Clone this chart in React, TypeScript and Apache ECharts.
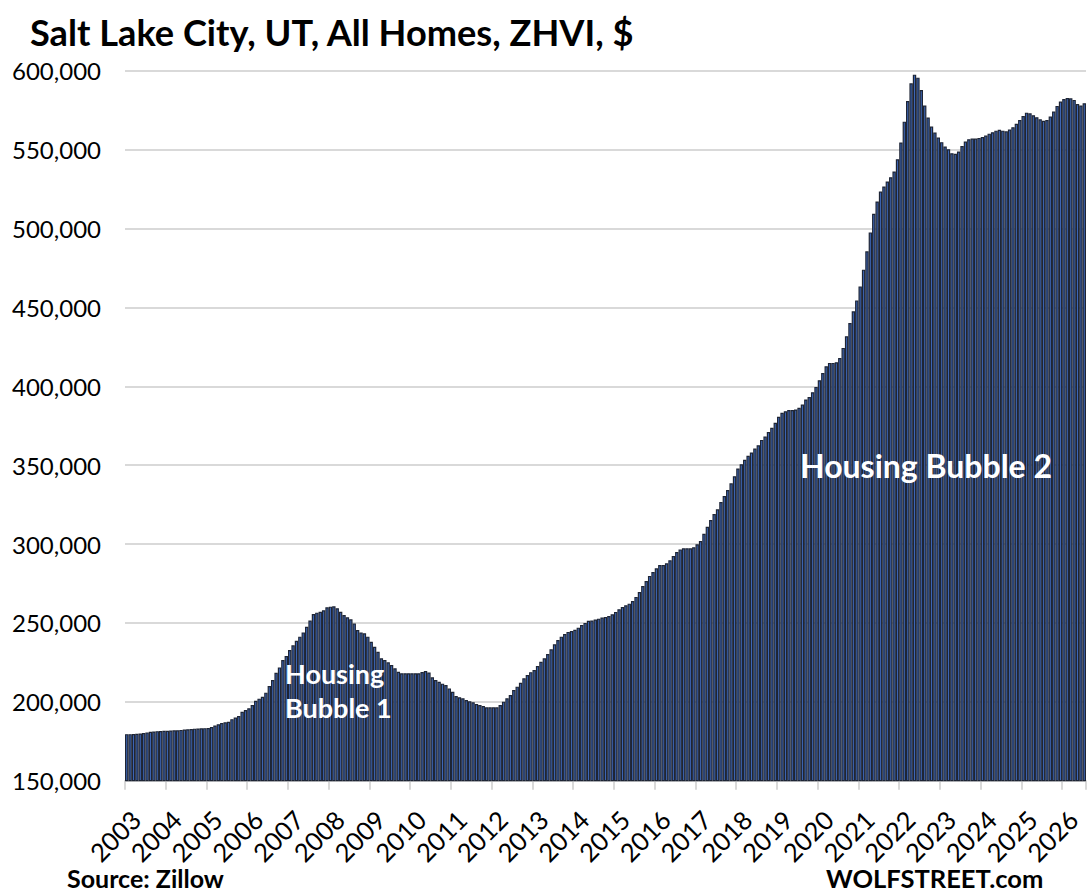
import React, { useEffect, useRef } from "react";
import * as echarts from "echarts";

// Salt Lake City ZHVI, monthly, in thousands of dollars (Jan 2003 onward)
const firstYear = 2003;
const zhviThousands: number[] = [
  // 2003
  179.5, 179.5, 179.6, 179.7, 179.9, 180.2, 180.6, 181.0, 181.2, 181.4, 181.5, 181.6,
  // 2004
  181.7, 181.8, 181.9, 182.0, 182.2, 182.4, 182.6, 182.8, 183.0, 183.1, 183.2, 183.3,
  // 2005
  183.4, 184.0, 185.0, 185.8, 186.5, 187.0, 187.4, 189.0, 190.0, 191.0, 193.7, 194.8,
  // 2006
  195.9, 198.0, 200.7, 202.0, 203.2, 205.8, 210.0, 213.8, 218.4, 221.8, 226.5, 229.0,
  // 2007
  232.8, 235.8, 238.7, 241.3, 244.0, 247.5, 251.5, 255.6, 256.5, 257.1, 258.0, 259.9,
  // 2008
  260.3, 260.5, 259.3, 257.1, 255.0, 253.6, 252.3, 249.7, 245.5, 244.0, 243.4, 241.3,
  // 2009
  238.1, 234.9, 231.7, 227.6, 226.5, 225.0, 223.3, 221.2, 219.1, 218.1, 218.1, 218.1,
  // 2010
  218.1, 218.1, 218.1, 218.9, 219.5, 218.5, 215.5, 213.8, 212.7, 211.5, 210.6, 208.5,
  // 2011
  206.4, 203.7, 202.9, 202.2, 201.1, 200.3, 199.7, 198.6, 198.0, 197.3, 196.5, 196.5,
  // 2012
  196.5, 196.5, 198.0, 200.1, 202.2, 204.3, 207.5, 209.6, 212.1, 214.9, 217.0, 218.8,
  // 2013
  220.2, 222.7, 225.4, 227.6, 230.3, 233.3, 236.5, 239.2, 241.3, 243.0, 244.3, 244.9,
  // 2014
  245.6, 247.0, 248.7, 250.0, 251.3, 251.5, 252.1, 252.7, 253.4, 253.8, 254.4, 255.5,
  // 2015
  257.0, 258.7, 260.1, 261.2, 262.2, 263.9, 266.5, 269.6, 273.4, 276.6, 279.8, 282.3,
  // 2016
  284.6, 286.7, 286.7, 287.8, 289.7, 292.4, 294.9, 296.6, 297.3, 297.3, 297.3, 298.0,
  // 2017
  299.8, 301.9, 306.5, 311.0, 315.2, 319.0, 322.0, 326.6, 330.4, 334.2, 338.5, 343.0,
  // 2018
  347.9, 350.6, 353.4, 355.9, 358.0, 360.5, 362.6, 366.0, 368.1, 371.0, 373.7, 376.9,
  // 2019
  380.7, 383.2, 384.2, 384.9, 384.9, 385.3, 386.3, 388.4, 391.6, 393.2, 396.2, 399.6,
  // 2020
  403.8, 408.4, 412.7, 414.8, 414.8, 415.2, 417.9, 424.3, 431.7, 440.1, 447.5, 454.4,
  // 2021
  463.3, 473.9, 485.5, 497.5, 509.3, 517.1, 523.4, 526.6, 529.8, 532.5, 536.1, 543.9,
  // 2022
  554.5, 567.7, 580.8, 592.0, 597.5, 595.6, 587.8, 577.9, 570.3, 564.6, 560.8, 557.6,
  // 2023
  554.7, 551.9, 550.2, 547.7, 547.3, 548.8, 552.3, 555.1, 556.6, 557.0, 557.0, 557.4,
  // 2024
  558.0, 558.9, 560.1, 561.0, 562.0, 562.5, 562.0, 561.6, 562.7, 564.2, 566.3, 568.8,
  // 2025
  571.3, 573.4, 573.0, 571.8, 570.5, 569.2, 568.2, 568.8, 570.9, 574.1, 577.7, 580.4,
  // 2026
  582.1, 582.7, 582.5, 581.5, 578.9, 577.9, 579.4,
];

const categories: string[] = zhviThousands.map(
  (_, i) => `${firstYear + Math.floor(i / 12)}-${String((i % 12) + 1).padStart(2, "0")}`
);

const yMin = 150;
const yMax = 600;
const yStep = 50;

const titleText = "Salt Lake City, UT, All Homes, ZHVI, $";
const bubble1Text = "Housing\nBubble 1";
const bubble2Text = "Housing Bubble 2";
const sourceText = "Source: Zillow";
const brandText = "WOLFSTREET.com";

const FONT = "Lato, 'Noto Sans', sans-serif";

export default function App() {
  const ref = useRef<HTMLDivElement>(null);

  useEffect(() => {
    const chart = echarts.init(ref.current as HTMLDivElement, null, { renderer: "svg" });
    chart.setOption({
      animation: false,
      backgroundColor: "#ffffff",
      grid: { left: 125, right: 6, top: 70.7, bottom: 112.3, containLabel: false },
      xAxis: {
        type: "category",
        data: categories,
        boundaryGap: true,
        axisLine: { show: true, lineStyle: { color: "#d9d9d9", width: 2 } },
        axisTick: {
          show: true,
          interval: (i: number) => i % 12 === 0,
          length: 9,
          lineStyle: { color: "#d9d9d9", width: 2 },
        },
        axisLabel: {
          interval: (i: number) => i % 12 === 0,
          formatter: (v: string) => v.slice(0, 4),
          rotate: 45,
          align: "right",
          verticalAlign: "top",
          margin: 25,
          fontSize: 25.5,
          fontFamily: FONT,
          color: "#000000",
        },
        splitLine: { show: false },
      },
      yAxis: {
        type: "value",
        min: yMin,
        max: yMax,
        interval: yStep,
        axisLine: { show: false },
        axisTick: { show: false },
        axisLabel: {
          formatter: (v: number) => (v * 1000).toLocaleString("en-US"),
          fontSize: 24,
          fontFamily: FONT,
          color: "#000000",
          margin: 24,
        },
        splitLine: { show: true, lineStyle: { color: "#d9d9d9", width: 2 } },
      },
      series: [
        {
          type: "bar",
          data: zhviThousands,
          barCategoryGap: "0%",
          silent: true,
          itemStyle: { color: "#3d66b6", borderColor: "#1e2535", borderWidth: 1.2 },
        },
      ],
      graphic: [
        {
          type: "text",
          x: 30,
          y: 32,
          style: {
            text: titleText,
            fill: "#000000",
            fontSize: 36.2,
            fontWeight: "bold",
            fontFamily: FONT,
            textAlign: "left",
            textVerticalAlign: "middle",
          },
        },
        {
          type: "text",
          x: 285,
          y: 690,
          z: 100,
          style: {
            text: bubble1Text,
            fill: "#ffffff",
            fontSize: 27,
            fontWeight: "bold",
            fontFamily: FONT,
            lineHeight: 34,
            textAlign: "left",
            textVerticalAlign: "middle",
          },
        },
        {
          type: "text",
          x: 800,
          y: 465,
          z: 100,
          style: {
            text: bubble2Text,
            fill: "#ffffff",
            fontSize: 32,
            fontWeight: "bold",
            fontFamily: FONT,
            textAlign: "left",
            textVerticalAlign: "middle",
          },
        },
        {
          type: "text",
          x: 67,
          y: 878,
          style: {
            text: sourceText,
            fill: "#000000",
            fontSize: 25,
            fontWeight: "bold",
            fontFamily: FONT,
            textAlign: "left",
            textVerticalAlign: "middle",
          },
        },
        {
          type: "text",
          x: 826,
          y: 878,
          style: {
            text: brandText,
            fill: "#000000",
            fontSize: 25.5,
            fontWeight: "bold",
            fontFamily: FONT,
            textAlign: "left",
            textVerticalAlign: "middle",
          },
        },
      ],
    });
    return () => chart.dispose();
  }, []);

  return (
    <div
      ref={ref}
      style={{ position: "absolute", left: 0, top: 0, width: 1092, height: 893 }}
    />
  );
}
